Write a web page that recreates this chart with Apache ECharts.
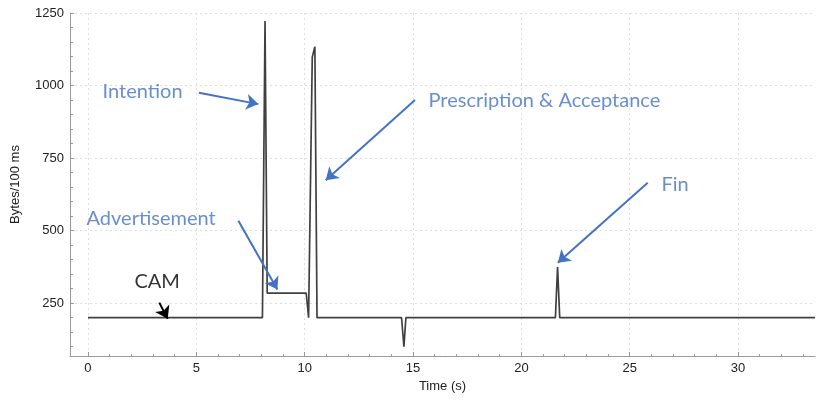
<!DOCTYPE html>
<html>
<head>
<meta charset="utf-8">
<script src="https://cdn.jsdelivr.net/npm/echarts@6/dist/echarts.min.js"></script>
<style>
html, body { margin: 0; padding: 0; background: #fff; }
#chart { width: 830px; height: 402px; }
</style>
</head>
<body>
<div id="chart"></div>
<script>
// traffic trace, time in s / bytes per 100 ms
const traffic = [
    [0, 200], [8.05, 200], [8.17, 1222], [8.27, 285], [10.07, 285], [10.18, 200],
    [10.26, 200], [10.35, 1098], [10.47, 1134], [10.57, 200], [14.47, 200],
    [14.58, 100], [14.67, 200], [21.57, 200], [21.67, 375], [21.77, 200], [33.55, 200]
]
const xTicks = [0, 5, 10, 15, 20, 25, 30]
const xMinorTicks = [0, 1, 2, 3, 4, 5, 6, 7, 8, 9, 10, 11, 12, 13, 14, 15, 16, 17, 18, 19, 20,
    21, 22, 23, 24, 25, 26, 27, 28, 29, 30, 31, 32, 33]
const yTicks = [250, 500, 750, 1000, 1250]
const yMinorTicks = [100, 150, 200, 250, 300, 350, 400, 450, 500, 550, 600, 650, 700, 750, 800,
    850, 900, 950, 1000, 1050, 1100, 1150, 1200, 1250]

// annotation text, anchored at left / middle
const noteNames = ['Intention', 'Prescription & Acceptance', 'Advertisement', 'Fin', 'CAM']
const notePos = [[0.65, 981], [15.69, 950], [-0.09, 543], [26.44, 660], [2.12, 326]]
// arrows: [tail, head]
const arrows = [
    [[5.12, 975], [7.86, 936]],
    [[15.09, 950], [10.97, 674]],
    [[6.94, 534], [8.74, 297]],
    [[25.83, 665], [21.68, 389]]
]
const camArrow = [[3.29, 252], [3.68, 196]]

const BLUE = '#4472c4'
const xMin = -0.83, xMax = 33.55
const yMin = 68, yMax = 1250

const chart = echarts.init(document.getElementById('chart'))

const axisTextStyle = { color: '#222', fontSize: 13, fontFamily: 'Liberation Sans' }
const gridLine = { show: true, lineStyle: { color: '#dedede', type: [2, 3], width: 1 } }

chart.setOption({
    animation: false,
    grid: { left: 70, right: 15, top: 13, bottom: 46, containLabel: false },
    xAxis: [{
        type: 'value', min: xMin, max: xMax, position: 'bottom',
        axisLine: { onZero: false, lineStyle: { color: '#9a9a9a', width: 1 } },
        axisTick: { show: true, inside: true, length: 2, customValues: xMinorTicks, lineStyle: { color: '#9a9a9a' } },
        axisLabel: { show: false },
        splitLine: { show: false }
    }, {
        type: 'value', min: xMin, max: xMax, position: 'bottom',
        name: 'Time (s)', nameLocation: 'middle', nameGap: 24,
        nameTextStyle: axisTextStyle,
        axisLine: { show: false, onZero: false },
        axisTick: { show: true, inside: true, length: 4, customValues: xTicks, lineStyle: { color: '#9a9a9a' } },
        axisLabel: { customValues: xTicks, margin: 6, formatter: v => String(v), ...axisTextStyle },
        splitLine: gridLine
    }],
    yAxis: [{
        type: 'value', min: yMin, max: yMax, position: 'left',
        axisLine: { show: true, onZero: false, lineStyle: { color: '#9a9a9a', width: 1 } },
        axisTick: { show: true, inside: true, length: 3, customValues: yMinorTicks, lineStyle: { color: '#9a9a9a' } },
        axisLabel: { show: false },
        splitLine: { show: false }
    }, {
        type: 'value', min: yMin, max: yMax, position: 'left',
        name: 'Bytes/100 ms', nameLocation: 'middle', nameGap: 48, nameRotate: 90,
        nameTextStyle: axisTextStyle,
        axisLine: { show: false, onZero: false },
        axisTick: { show: true, inside: true, length: 4, customValues: yTicks, lineStyle: { color: '#9a9a9a' } },
        axisLabel: { customValues: yTicks, margin: 6, formatter: v => String(v), ...axisTextStyle },
        splitLine: gridLine
    }],
    series: [{
        name: 'traffic',
        type: 'line',
        xAxisIndex: 0,
        yAxisIndex: 0,
        data: traffic,
        symbol: 'none',
        lineStyle: { color: '#404040', width: 1.7 },
        z: 3,
        markLine: {
            silent: true,
            symbol: ['none', 'arrow'],
            symbolSize: 12,
            label: { show: false },
            lineStyle: { color: BLUE, width: 2, type: 'solid' },
            data: arrows.map(a => [{ coord: a[0] }, { coord: a[1] }]).concat([[
                { coord: camArrow[0], lineStyle: { color: '#000', width: 2 } },
                { coord: camArrow[1], lineStyle: { color: '#000', width: 2 } }
            ]])
        }
    }, {
        name: 'notes',
        type: 'scatter',
        xAxisIndex: 0,
        yAxisIndex: 0,
        symbolSize: 1,
        itemStyle: { color: 'rgba(0,0,0,0)' },
        silent: true,
        z: 4,
        data: noteNames.map((n, i) => ({
            name: n,
            value: notePos[i],
            label: { color: n === 'CAM' ? '#000' : BLUE }
        })),
        label: {
            show: true,
            position: 'right',
            distance: 0,
            formatter: '{b}',
            fontFamily: 'Lato',
            fontSize: 20,
            verticalAlign: 'middle'
        }
    }]
})
</script>
</body>
</html>
